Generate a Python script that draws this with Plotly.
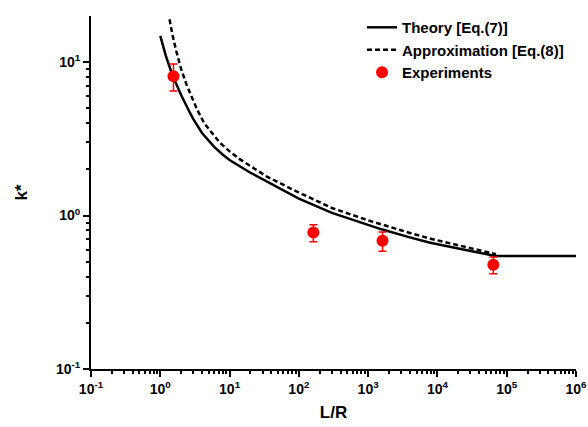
import plotly.graph_objects as go

# Theory [Eq.(7)]
theory_x = [1.0, 1.2, 1.5, 2.0, 2.6, 3.0, 4.0, 6.0, 8.0, 10, 20, 40, 100, 300, 1000, 1600, 4000, 7600, 20000, 69000, 1e6]
theory_y = [14.8, 11.0, 8.2, 6.1, 4.8, 4.25, 3.45, 2.8, 2.49, 2.3, 1.9, 1.6, 1.29, 1.04, 0.87, 0.81, 0.72, 0.667, 0.61, 0.545, 0.545]

# Approximation [Eq.(8)]
approx_x = [1.36, 1.5, 1.7, 2.0, 2.4, 2.8, 3.4, 4.3, 5.5, 7.15, 10, 14, 20, 34, 91, 300, 1000, 1600, 4000, 7600, 20000, 70000]
approx_y = [19.0, 15.0, 11.8, 9.0, 7.1, 6.0, 4.9, 4.0, 3.45, 3.0, 2.62, 2.33, 2.1, 1.8, 1.44, 1.12, 0.93, 0.87, 0.77, 0.71, 0.64, 0.56]

# Experiments
exp_x = [1.55, 162, 1611, 64100]
exp_y = [8.07, 0.774, 0.684, 0.477]
exp_err_plus = [1.63, 0.097, 0.098, 0.06]
exp_err_minus = [1.60, 0.10, 0.10, 0.06]

x_tickvals = [0.1, 1, 10, 100, 1000, 10000, 100000, 1000000]
x_ticktext = ["<b>10<sup>-1</sup></b>", "<b>10<sup>0</sup></b>", "<b>10<sup>1</sup></b>", "<b>10<sup>2</sup></b>",
              "<b>10<sup>3</sup></b>", "<b>10<sup>4</sup></b>", "<b>10<sup>5</sup></b>", "<b>10<sup>6</sup></b>"]
y_tickvals = [0.1, 1, 10]
y_ticktext = ["<b>10<sup>-1</sup></b>", "<b>10<sup>0</sup></b>", "<b>10<sup>1</sup></b>"]

x_minor = [m * 10.0 ** e for e in range(-1, 6) for m in range(2, 10)]
y_minor = [m * 10.0 ** e for e in range(-1, 2) for m in range(2, 10)]

fig = go.Figure()
fig.add_trace(go.Scatter(x=theory_x, y=theory_y, mode="lines", name="<b>Theory [Eq.(7)]</b>",
                         line=dict(color="black", width=2.5)))
fig.add_trace(go.Scatter(x=approx_x, y=approx_y, mode="lines", name="<b>Approximation [Eq.(8)]</b>",
                         line=dict(color="black", width=2.5, dash="5px,3px")))
fig.add_trace(go.Scatter(x=exp_x, y=exp_y, mode="markers", name="<b>Experiments</b>",
                         marker=dict(color="red", size=12, symbol="circle"),
                         error_y=dict(type="data", array=exp_err_plus, arrayminus=exp_err_minus,
                                      color="red", thickness=1.5, width=4)))

axis_common = dict(type="log", showgrid=False, zeroline=False, showline=True, linecolor="black",
                   linewidth=2, ticks="outside", ticklen=6, tickwidth=2, tickcolor="black",
                   automargin=False,
                   tickfont=dict(family="Liberation Sans", size=14, color="black"))

fig.update_xaxes(range=[-1, 6], tickvals=x_tickvals, ticktext=x_ticktext,
                 minor=dict(tickmode="array", tickvals=x_minor, ticks="outside", ticklen=3,
                            tickwidth=1.5, tickcolor="black", showgrid=False),
                 title=dict(text="<b>L/R</b>", font=dict(family="Liberation Sans", size=17, color="black"), standoff=10),
                 **axis_common)
fig.update_yaxes(range=[-1, 1.3], tickvals=y_tickvals, ticktext=y_ticktext,
                 minor=dict(tickmode="array", tickvals=y_minor, ticks="outside", ticklen=3,
                            tickwidth=1.5, tickcolor="black", showgrid=False),
                 title=dict(text="<b>k*</b>", font=dict(family="Liberation Sans", size=17, color="black"), standoff=24),
                 **axis_common)

fig.update_layout(width=588, height=427, margin=dict(l=91, r=12, t=11, b=58),
                  plot_bgcolor="white", paper_bgcolor="white",
                  legend=dict(x=0.5588, y=1.014, xanchor="left", yanchor="top", bgcolor="rgba(0,0,0,0)",
                              font=dict(family="Liberation Sans", size=15, color="black"),
                              tracegroupgap=0, itemwidth=30),
                  showlegend=True)

fig.write_html("out.html", config={"displayModeBar": False},
               post_script="document.body.style.margin='0';document.body.style.overflow='hidden';")
